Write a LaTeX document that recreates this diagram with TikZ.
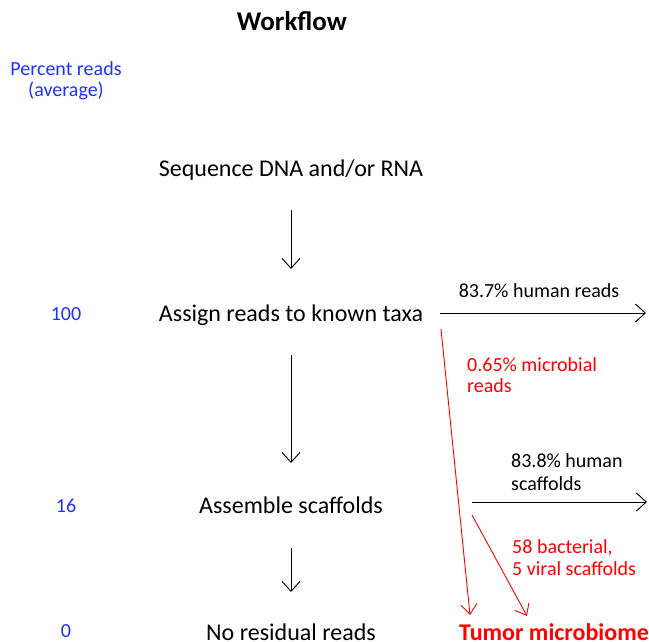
\documentclass[tikz,border=0pt]{standalone}
\usepackage{fontspec}
\setmainfont{Carlito}
\usetikzlibrary{arrows.meta}
\definecolor{pctblue}{RGB}{30,50,255}
\definecolor{micred}{RGB}{255,0,0}
\tikzset{
  stepnode/.style={font=\fontsize{24}{28}\selectfont, inner sep=0pt, anchor=base},
  pctnode/.style={font=\fontsize{20}{21}\selectfont, text=pctblue, inner sep=0pt, align=center, anchor=base},
  sidenote/.style={font=\fontsize{20}{22}\selectfont, inner sep=0pt, align=left, anchor=base west},
  flow/.style={draw=black, line width=0.9pt, -{Straight Barb[length=10pt,width=18pt,line width=0.9pt]}},
  redflow/.style={draw=micred, line width=0.9pt, -{Straight Barb[length=10pt,width=16pt,line width=0.9pt]}}
}
\begin{document}
\begin{tikzpicture}[x=1pt,y=-1pt]
\useasboundingbox (0,0) rectangle (649,642);

% title and column header (base anchor = last line)
\node[font=\fontsize{27}{30}\selectfont\bfseries, inner sep=0pt, anchor=base] (title) at (292,31) {Workflow};
\node[pctnode] (hdr) at (66,97) {Percent reads\\(average)};

% workflow steps
\node[stepnode] (seq) at (291,176) {Sequence DNA and/or RNA};
\node[stepnode] (assign) at (291,321) {Assign reads to known taxa};
\node[stepnode] (assemble) at (291,513) {Assemble scaffolds};
\node[stepnode] (resid) at (291,640.5) {No residual reads};
\node[font=\fontsize{24}{28}\selectfont\bfseries, text=micred, inner sep=0pt, anchor=base] (tumor) at (554,640.5) {Tumor microbiome};

% percentages
\node[pctnode] (p100) at (66,320) {100};
\node[pctnode] (p16) at (66,512) {16};
\node[pctnode] (p0) at (66,637) {0};

% connector end points
\coordinate (a1s) at (291,210); \coordinate (a1e) at (291,269);
\coordinate (a2s) at (291,355); \coordinate (a2e) at (291,463);
\coordinate (a3s) at (291,548); \coordinate (a3e) at (291,592);
\coordinate (h1s) at (440,313); \coordinate (h1e) at (646,313);
\coordinate (h2s) at (472,502); \coordinate (h2e) at (647,502);
\coordinate (r1s) at (441,329); \coordinate (r1e) at (470,615);
\coordinate (r2s) at (472,515); \coordinate (r2e) at (527,616);

% vertical flow
\draw[flow] (a1s) -- (a1e);
\draw[flow] (a2s) -- (a2e);
\draw[flow] (a3s) -- (a3e);

% human fractions leaving the workflow
\draw[flow] (h1s) -- (h1e);
\draw[flow] (h2s) -- (h2e);
\node[sidenote, anchor=base] (hlab1) at (539,297) {83.7\% human reads};
\node[sidenote] (hlab2) at (511,490) {83.8\% human\\[1pt]scaffolds};

% microbial fractions
\draw[redflow] (r1s) -- (r1e);
\draw[redflow] (r2s) -- (r2e);
\node[sidenote, text=micred] (mlab1) at (467,392) {0.65\% microbial\\[-1pt]reads};
\node[sidenote, text=micred] (mlab2) at (512,575) {58 bacterial,\\5 viral scaffolds};
\end{tikzpicture}
\end{document}
